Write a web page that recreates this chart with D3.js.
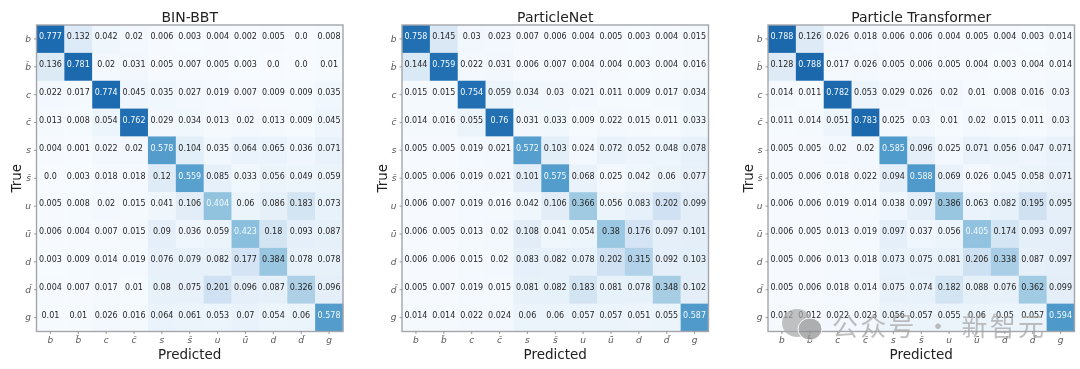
<!DOCTYPE html>
<html>
<head>
<meta charset="utf-8">
<script src="https://cdn.jsdelivr.net/npm/d3@7"></script>
<style>
html, body { margin: 0; padding: 0; background: #fff; }
svg { display: block; }
text { font-family: "DejaVu Sans", sans-serif; }
</style>
</head>
<body>
<div id="plot"></div>
<script>
var width = 1080;
var height = 369;

var labels = ['b', 'b\u0304', 'c', 'c\u0304', 's', 's\u0304', 'u', 'u\u0304', 'd', 'd\u0304', 'g'];

var titles = ['BIN-BBT', 'ParticleNet', 'Particle Transformer'];

var binBbt = [
    [0.777, 0.132, 0.042, 0.02, 0.006, 0.003, 0.004, 0.002, 0.005, 0.0, 0.008],
    [0.136, 0.781, 0.02, 0.031, 0.005, 0.007, 0.005, 0.003, 0.0, 0.0, 0.01],
    [0.022, 0.017, 0.774, 0.045, 0.035, 0.027, 0.019, 0.007, 0.009, 0.009, 0.035],
    [0.013, 0.008, 0.054, 0.762, 0.029, 0.034, 0.013, 0.02, 0.013, 0.009, 0.045],
    [0.004, 0.001, 0.022, 0.02, 0.578, 0.104, 0.035, 0.064, 0.065, 0.036, 0.071],
    [0.0, 0.003, 0.018, 0.018, 0.12, 0.559, 0.085, 0.033, 0.056, 0.049, 0.059],
    [0.005, 0.008, 0.02, 0.015, 0.041, 0.106, 0.404, 0.06, 0.086, 0.183, 0.073],
    [0.006, 0.004, 0.007, 0.015, 0.09, 0.036, 0.059, 0.423, 0.18, 0.093, 0.087],
    [0.003, 0.009, 0.014, 0.019, 0.076, 0.079, 0.082, 0.177, 0.384, 0.078, 0.078],
    [0.004, 0.007, 0.017, 0.01, 0.08, 0.075, 0.201, 0.096, 0.087, 0.326, 0.096],
    [0.01, 0.01, 0.026, 0.016, 0.064, 0.061, 0.053, 0.07, 0.054, 0.06, 0.578]
];

var particleNet = [
    [0.758, 0.145, 0.03, 0.023, 0.007, 0.006, 0.004, 0.005, 0.003, 0.004, 0.015],
    [0.144, 0.759, 0.022, 0.031, 0.006, 0.007, 0.004, 0.004, 0.003, 0.004, 0.016],
    [0.015, 0.015, 0.754, 0.059, 0.034, 0.03, 0.021, 0.011, 0.009, 0.017, 0.034],
    [0.014, 0.016, 0.055, 0.76, 0.031, 0.033, 0.009, 0.022, 0.015, 0.011, 0.033],
    [0.005, 0.005, 0.019, 0.021, 0.572, 0.103, 0.024, 0.072, 0.052, 0.048, 0.078],
    [0.005, 0.006, 0.019, 0.021, 0.101, 0.575, 0.068, 0.025, 0.042, 0.06, 0.077],
    [0.006, 0.007, 0.019, 0.016, 0.042, 0.106, 0.366, 0.056, 0.083, 0.202, 0.099],
    [0.006, 0.005, 0.013, 0.02, 0.108, 0.041, 0.054, 0.38, 0.176, 0.097, 0.101],
    [0.006, 0.006, 0.015, 0.02, 0.083, 0.082, 0.078, 0.202, 0.315, 0.092, 0.103],
    [0.005, 0.007, 0.019, 0.015, 0.081, 0.082, 0.183, 0.081, 0.078, 0.348, 0.102],
    [0.014, 0.014, 0.022, 0.024, 0.06, 0.06, 0.057, 0.057, 0.051, 0.055, 0.587]
];

var particleTransformer = [
    [0.788, 0.126, 0.026, 0.018, 0.006, 0.006, 0.004, 0.005, 0.004, 0.003, 0.014],
    [0.128, 0.788, 0.017, 0.026, 0.005, 0.006, 0.005, 0.004, 0.003, 0.004, 0.014],
    [0.014, 0.011, 0.782, 0.053, 0.029, 0.026, 0.02, 0.01, 0.008, 0.016, 0.03],
    [0.011, 0.014, 0.051, 0.783, 0.025, 0.03, 0.01, 0.02, 0.015, 0.011, 0.03],
    [0.005, 0.005, 0.02, 0.02, 0.585, 0.096, 0.025, 0.071, 0.056, 0.047, 0.071],
    [0.005, 0.006, 0.018, 0.022, 0.094, 0.588, 0.069, 0.026, 0.045, 0.058, 0.071],
    [0.006, 0.006, 0.019, 0.014, 0.038, 0.097, 0.386, 0.063, 0.082, 0.195, 0.095],
    [0.006, 0.005, 0.013, 0.019, 0.097, 0.037, 0.056, 0.405, 0.174, 0.093, 0.097],
    [0.005, 0.006, 0.013, 0.018, 0.073, 0.075, 0.081, 0.206, 0.338, 0.087, 0.097],
    [0.005, 0.006, 0.018, 0.014, 0.075, 0.074, 0.182, 0.088, 0.076, 0.362, 0.099],
    [0.012, 0.012, 0.022, 0.023, 0.056, 0.057, 0.055, 0.06, 0.05, 0.057, 0.594]
];

var matrices = [binBbt, particleNet, particleTransformer];

// left edge of each heatmap
var panel_x = [36.5, 402, 768];
var panel_top = 25;
var panel_size = 306.5;

var color_scale = d3.scaleSequential(d3.interpolateBlues).domain([0, 1]);

var canvas = d3.select('#plot')
    .append('svg')
    .attr('width', width)
    .attr('height', height);

// the reference is a soft, upscaled screenshot
canvas.append('defs')
    .append('filter')
    .attr('id', 'soft')
    .attr('x', 0).attr('y', 0).attr('width', 1).attr('height', 1)
    .append('feGaussianBlur')
    .attr('stdDeviation', 0.5);

var root = canvas.append('g').attr('filter', 'url(#soft)');
root.append('rect').attr('width', width).attr('height', height).attr('fill', '#fff');

function fmt(v) {
    // python prints zero as 0.0
    return v === 0 ? '0.0' : String(v);
}

function plot(index) {
    var data = matrices[index];
    var g = root.append('g')
        .attr('transform', 'translate(' + panel_x[index] + ',' + panel_top + ')');

    var x_scale = d3.scaleBand().domain(labels).range([0, panel_size]);
    var y_scale = d3.scaleBand().domain(labels).range([0, panel_size]);

    var cells = [];
    data.forEach(function(row, i) {
        row.forEach(function(v, j) {
            cells.push({ truth: labels[i], pred: labels[j], value: v });
        });
    });

    g.selectAll('rect.cell')
        .data(cells)
        .enter()
        .append('rect')
        .attr('class', 'cell')
        .attr('x', function(d) { return x_scale(d.pred); })
        .attr('y', function(d) { return y_scale(d.truth); })
        .attr('width', x_scale.bandwidth() + 0.3)
        .attr('height', y_scale.bandwidth() + 0.3)
        .style('fill', function(d) { return color_scale(d.value); });

    g.selectAll('text.val')
        .data(cells)
        .enter()
        .append('text')
        .attr('class', 'val')
        .attr('x', function(d) { return x_scale(d.pred) + x_scale.bandwidth() / 2; })
        .attr('y', function(d) { return y_scale(d.truth) + y_scale.bandwidth() / 2 - 2.5; })
        .attr('dy', '0.35em')
        .attr('text-anchor', 'middle')
        .style('font-size', '8px')
        .style('fill', function(d) { return d.value >= 0.4 ? '#f4f9fd' : '#262626'; })
        .text(function(d) { return fmt(d.value); });

    g.append('rect')
        .attr('width', panel_size)
        .attr('height', panel_size)
        .attr('fill', 'none')
        .attr('stroke', '#a3a6aa')
        .attr('stroke-width', 1.4);

    var x_axis = g.append('g')
        .attr('transform', 'translate(0,' + panel_size + ')')
        .call(d3.axisBottom(x_scale).tickSize(2.5).tickPadding(3));
    var y_axis = g.append('g')
        .call(d3.axisLeft(y_scale).tickSize(2.5).tickPadding(3));

    [x_axis, y_axis].forEach(function(a) {
        a.select('.domain').remove();
        a.selectAll('line').attr('stroke', '#777').attr('stroke-width', 0.7);
        a.selectAll('text')
            .style('font-family', '"DejaVu Sans", sans-serif')
            .style('font-size', '9px')
            .style('font-style', 'italic')
            .style('fill', '#555');
    });

    g.append('text')
        .attr('x', panel_size / 2)
        .attr('y', -3.5)
        .attr('text-anchor', 'middle')
        .style('font-size', '14px')
        .style('fill', '#222')
        .text(titles[index]);

    g.append('text')
        .attr('x', panel_size / 2)
        .attr('y', panel_size + 27)
        .attr('text-anchor', 'middle')
        .style('font-size', '13.5px')
        .style('fill', '#222')
        .text('Predicted');

    g.append('text')
        .attr('transform', 'translate(-15.5,' + (panel_size / 2) + ') rotate(-90)')
        .attr('text-anchor', 'middle')
        .style('font-size', '13.5px')
        .style('fill', '#222')
        .text('True');
}

d3.range(3).forEach(plot);

// source watermark over the lower right panel
var mark = root.append('g').attr('opacity', 0.7);
mark.append('ellipse').attr('cx', 797).attr('cy', 323).attr('rx', 15).attr('ry', 14).attr('fill', '#a8a8a8');
mark.append('ellipse').attr('cx', 810).attr('cy', 329).attr('rx', 12).attr('ry', 11).attr('fill', '#8f8f8f').attr('stroke', '#fff');
mark.append('text')
    .attr('x', 832)
    .attr('y', 336)
    .style('font-family', '"Noto Sans CJK SC", sans-serif')
    .style('font-size', '26px')
    .style('letter-spacing', '2.3px')
    .style('fill', '#a4a4a4')
    .text('公众号 · 新智元');
</script>
</body>
</html>
